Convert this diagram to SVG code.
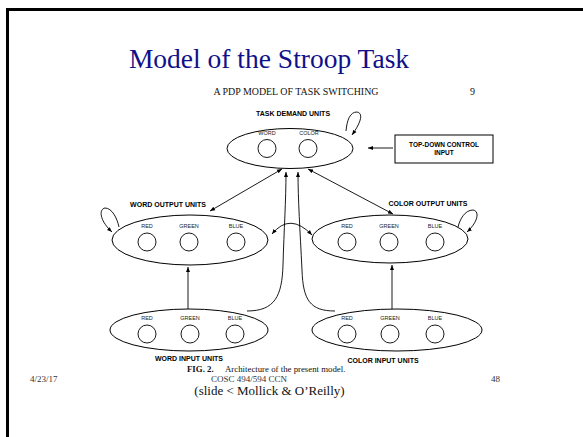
<svg xmlns="http://www.w3.org/2000/svg" width="583" height="437" viewBox="0 0 583 437">
<defs>
<marker id="ah" viewBox="0 0 10 10" refX="10" refY="5" markerWidth="5" markerHeight="5" orient="auto-start-reverse" markerUnits="userSpaceOnUse">
<path d="M0,1 L10,5 L0,9 z" fill="#000"/>
</marker>
<style>
.ell{fill:none;stroke:#000;stroke-width:1}
.unit{fill:none;stroke:#000;stroke-width:0.9}
.lab{font-family:"Liberation Sans",Arial,sans-serif;font-size:5.5px;fill:#222;text-anchor:middle}
.hdr{font-family:"Liberation Sans",Arial,sans-serif;font-size:7px;font-weight:bold;fill:#000;text-anchor:middle}
.con{fill:none;stroke:#000;stroke-width:0.9}
.ser{font-family:"Liberation Serif","Times New Roman",serif;fill:#111}
</style>
</defs>
<rect x="0" y="0" width="583" height="437" fill="#fff"/>
<path d="M7.5,437 L7.5,9.5 L583,9.5" fill="none" stroke="#000" stroke-width="3"/>
<text x="269" y="68" class="ser" style="font-size:27.5px;fill:#10108a" text-anchor="middle">Model of the Stroop Task</text>
<text x="296" y="95" class="ser" style="font-size:9.5px" text-anchor="middle" textLength="165" lengthAdjust="spacingAndGlyphs">A PDP MODEL OF TASK SWITCHING</text>
<text x="470" y="95" class="ser" style="font-size:10px">9</text>

<g id="task-demand">
<text x="293" y="116" class="hdr">TASK DEMAND UNITS</text>
<ellipse cx="290" cy="148.5" rx="63" ry="20" class="ell"/>
<text x="267" y="135" class="lab">WORD</text>
<text x="309" y="135" class="lab">COLOR</text>
<circle cx="267" cy="148.5" r="9" class="unit"/>
<circle cx="308" cy="148.5" r="9" class="unit"/>
</g>

<g id="top-down">
<rect x="395" y="135" width="98" height="28" fill="none" stroke="#000" stroke-width="1"/>
<text x="444" y="147" class="hdr" style="font-size:6.5px">TOP-DOWN CONTROL</text>
<text x="444" y="155" class="hdr" style="font-size:6.5px">INPUT</text>
</g>

<g id="word-output">
<text x="168" y="207" class="hdr">WORD OUTPUT UNITS</text>
<ellipse cx="190" cy="240" rx="78" ry="25" class="ell"/>
<text x="147" y="228" class="lab">RED</text>
<text x="189" y="228" class="lab">GREEN</text>
<text x="236" y="228" class="lab">BLUE</text>
<circle cx="147" cy="242" r="9" class="unit"/>
<circle cx="189" cy="242" r="9" class="unit"/>
<circle cx="236" cy="242" r="9" class="unit"/>
</g>

<g id="color-output">
<text x="428" y="206" class="hdr">COLOR OUTPUT UNITS</text>
<ellipse cx="390" cy="239" rx="78" ry="24" class="ell"/>
<text x="347" y="228" class="lab">RED</text>
<text x="389" y="228" class="lab">GREEN</text>
<text x="435" y="228" class="lab">BLUE</text>
<circle cx="347" cy="242" r="9" class="unit"/>
<circle cx="389" cy="242" r="9" class="unit"/>
<circle cx="435" cy="242" r="9" class="unit"/>
</g>

<g id="word-input">
<ellipse cx="189" cy="330" rx="79" ry="21" class="ell"/>
<text x="147" y="320" class="lab">RED</text>
<text x="190" y="320" class="lab">GREEN</text>
<text x="235" y="320" class="lab">BLUE</text>
<circle cx="147" cy="334" r="9" class="unit"/>
<circle cx="190" cy="334" r="9" class="unit"/>
<circle cx="235" cy="334" r="9" class="unit"/>
<text x="189" y="361" class="hdr">WORD INPUT UNITS</text>
</g>

<g id="color-input">
<ellipse cx="397" cy="330" rx="85" ry="21" class="ell"/>
<text x="347" y="320" class="lab">RED</text>
<text x="390" y="320" class="lab">GREEN</text>
<text x="435" y="320" class="lab">BLUE</text>
<circle cx="347" cy="334" r="9" class="unit"/>
<circle cx="390" cy="334" r="9" class="unit"/>
<circle cx="435" cy="334" r="9" class="unit"/>
<text x="383" y="363" class="hdr">COLOR INPUT UNITS</text>
</g>

<g id="connectors">
<path class="con" d="M346,131 C347,120 350,112 357,112 C363,113 362,121 352,135" marker-end="url(#ah)"/>
<line class="con" x1="393" y1="148" x2="368" y2="148" marker-end="url(#ah)"/>
<line class="con" x1="210" y1="211" x2="282" y2="169" marker-start="url(#ah)" marker-end="url(#ah)"/>
<line class="con" x1="393" y1="214" x2="308" y2="169" marker-start="url(#ah)" marker-end="url(#ah)"/>
<path class="con" d="M247,311 C275,311 282,296 283,265 C284,230 286,200 286,172" marker-end="url(#ah)"/>
<path class="con" d="M335,311 C310,311 303,300 302,270 C300,230 298,200 298,172" marker-end="url(#ah)"/>
<path class="con" d="M119,227 C117,218 112,208 105,208 C99,209 99,220 112,232" marker-end="url(#ah)"/>
<path class="con" d="M458,227 C460,219 465,210 473,210 C480,211 478,222 467,232" marker-end="url(#ah)"/>
<path class="con" d="M272,234 Q290,212 312,235" marker-start="url(#ah)" marker-end="url(#ah)"/>
<line class="con" x1="188" y1="309" x2="188" y2="267" marker-end="url(#ah)"/>
<line class="con" x1="392" y1="309" x2="392" y2="265" marker-end="url(#ah)"/>
</g>

<text y="372" class="ser" style="font-size:8.8px"><tspan x="187" font-weight="bold">FIG. 2.</tspan><tspan x="225">Architecture of the present model.</tspan></text>
<text x="30" y="382" class="ser" style="font-size:9px;fill:#333">4/23/17</text>
<text x="249" y="382" class="ser" style="font-size:9px;fill:#333" text-anchor="middle">COSC 494/594 CCN</text>
<text x="491" y="382" class="ser" style="font-size:9px;fill:#333">48</text>
<text x="269.5" y="395" class="ser" style="font-size:13px" text-anchor="middle">(slide &lt; Mollick &amp; O’Reilly)</text>
</svg>
